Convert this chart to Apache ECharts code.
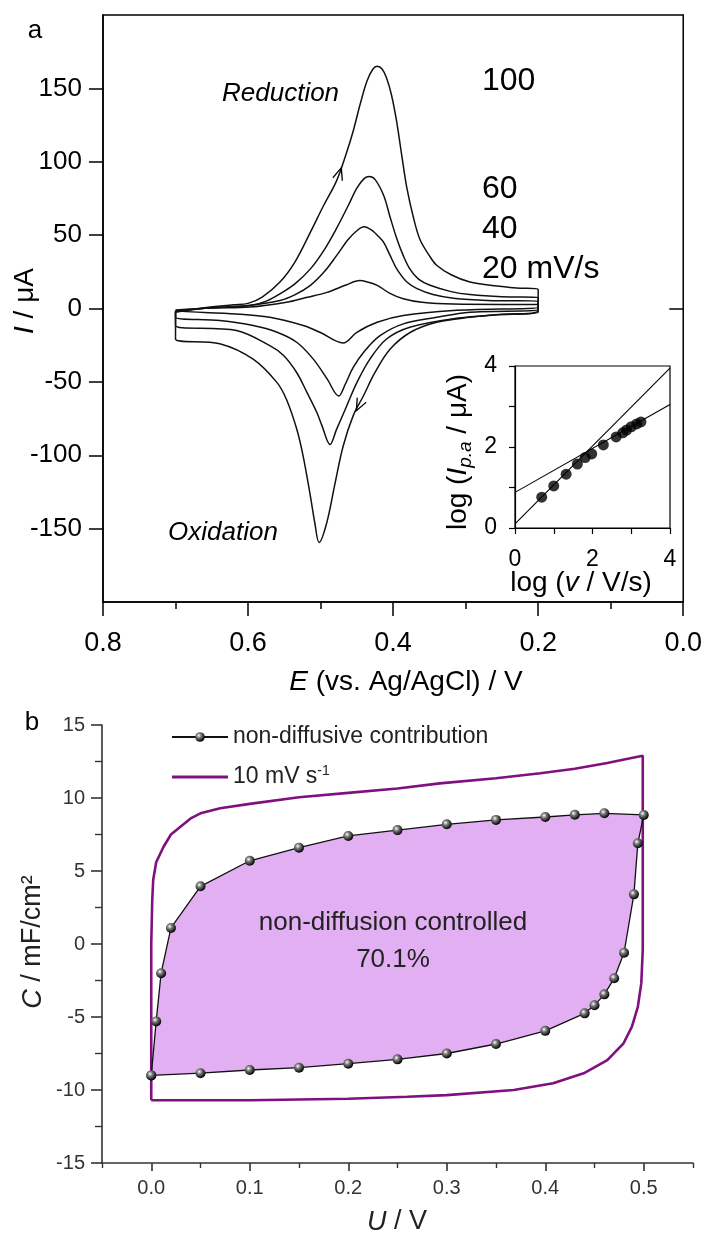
<!DOCTYPE html>
<html><head><meta charset="utf-8">
<script src="https://cdn.jsdelivr.net/npm/echarts@6/dist/echarts.min.js"></script>
<style>html,body{margin:0;padding:0;background:#fff}#c{width:705px;height:1236px}</style>
</head><body><div id="c"></div>
<script>
// ---------- Panel a: cyclic voltammograms [E (V), I (uA)] ----------
const cv100Up = [[0.700,-2.5],[0.660,0.5],[0.620,2.5],[0.600,3.5],[0.580,8],[0.556,18],[0.535,32],[0.514,52],[0.496,70],[0.478,87],[0.465,105],[0.455,121],[0.445,140],[0.436,155],[0.428,163],[0.422,165],[0.415,163],[0.409,157],[0.402,145],[0.395,127],[0.388,104],[0.381,82],[0.372,62],[0.363,47],[0.350,36],[0.340,29.5],[0.320,23],[0.294,18],[0.260,15.5],[0.230,14],[0.200,13]];
const cv100Down = [[0.200,-2.5],[0.250,-4],[0.294,-6],[0.340,-9.4],[0.376,-16.2],[0.404,-27.6],[0.425,-43.6],[0.441,-59.6],[0.455,-73],[0.469,-94],[0.480,-119],[0.4915,-146],[0.502,-159.5],[0.508,-146],[0.514,-128],[0.524,-100.7],[0.533,-82],[0.547,-62],[0.560,-50.5],[0.593,-34.5],[0.639,-24],[0.700,-20.8]];
const cv60Up = [[0.700,-2],[0.650,0.5],[0.597,2],[0.575,5],[0.556,10],[0.535,17],[0.514,27],[0.495,40],[0.478,54.6],[0.462,70],[0.450,82],[0.440,88.5],[0.433,90],[0.425,88],[0.413,77],[0.404,62],[0.395,47.7],[0.386,36],[0.377,27],[0.365,20],[0.349,15.8],[0.320,11.5],[0.294,9.5],[0.250,8],[0.200,7.5]];
const cv60Down = [[0.200,-1.4],[0.260,-4.5],[0.317,-7],[0.377,-12.8],[0.409,-20.8],[0.432,-34.5],[0.450,-50.5],[0.464,-66.4],[0.478,-82.4],[0.487,-92.7],[0.498,-80],[0.505,-71],[0.519,-57],[0.533,-43.6],[0.551,-32],[0.570,-25.3],[0.616,-15],[0.700,-11.6]];
const cv40Up = [[0.700,-1.5],[0.650,0.5],[0.600,2],[0.556,5.5],[0.535,9.5],[0.514,15.8],[0.495,25],[0.478,36],[0.462,47],[0.450,53],[0.440,55.7],[0.430,53.5],[0.420,49],[0.413,45],[0.404,36],[0.395,27],[0.381,18],[0.367,13.5],[0.345,9.5],[0.317,7],[0.270,5.5],[0.200,5]];
const cv40Down = [[0.200,-0.5],[0.294,-2.5],[0.340,-6],[0.386,-10.5],[0.418,-18.5],[0.439,-28.8],[0.455,-40.2],[0.466,-51.6],[0.475,-59.6],[0.491,-48],[0.510,-34.5],[0.533,-23],[0.560,-16.2],[0.593,-11.6],[0.639,-8.2],[0.700,-6]];
const cv20Up = [[0.700,-1],[0.650,0.3],[0.597,1],[0.547,4.3],[0.520,7.5],[0.491,11],[0.465,16],[0.446,19],[0.435,18],[0.422,15.8],[0.405,10.5],[0.386,6.6],[0.360,4.2],[0.317,3],[0.250,2.8],[0.200,2.8]];
const cv20Down = [[0.200,0.9],[0.317,-1.4],[0.386,-4.8],[0.422,-9.4],[0.450,-16.2],[0.469,-23.5],[0.501,-16.2],[0.524,-11.6],[0.570,-6],[0.616,-3.7],[0.700,-1.4]];
const yTicksA = [-150,-100,-50,0,50,100,150];
const arrowMarks = [[0.474,92],[0.447,-66]];

// ---------- Inset: log(Ip,a) vs log(v) ----------
const insetX = [0.69,1.00,1.32,1.61,1.81,1.98,2.28,2.61,2.78,2.88,3.00,3.14,3.25];
const insetY = [0.76,1.04,1.33,1.58,1.74,1.83,2.05,2.25,2.35,2.42,2.50,2.57,2.62];
const fit1 = [[0,0.10],[4,3.95]];
const fit2 = [[0,0.88],[4,3.05]];
const insetTicks = [0,2,4];

// ---------- Panel b: capacitance [U (V), C (mF/cm2)] ----------
const ndUpper = [[0,-9.0],[0.005,-5.3],[0.01,-2.0],[0.02,1.1],[0.05,3.95],[0.1,5.7],[0.15,6.6],[0.2,7.4],[0.25,7.8],[0.3,8.2],[0.35,8.5],[0.4,8.7],[0.43,8.85],[0.46,8.95],[0.5,8.84]];
const ndLower = [[0.494,6.9],[0.49,3.4],[0.48,-0.6],[0.47,-2.35],[0.46,-3.45],[0.45,-4.2],[0.44,-4.75],[0.4,-5.95],[0.35,-6.85],[0.3,-7.5],[0.25,-7.9],[0.2,-8.2],[0.15,-8.47],[0.1,-8.63],[0.05,-8.85],[0,-9.0]];
const cvUpper = [[0.0,-10.7],[0.0,0],[0.001,3],[0.002,4.4],[0.005,5.6],[0.0125,6.66],[0.02,7.5],[0.029,8.0],[0.04,8.6],[0.05,8.95],[0.07,9.3],[0.1,9.6],[0.15,10.05],[0.2,10.35],[0.25,10.65],[0.293,11.0],[0.35,11.35],[0.395,11.7],[0.43,12.0],[0.463,12.4],[0.485,12.7],[0.499,12.9]];
const cvLower = [[0.499,5],[0.499,-0.4],[0.4975,-2.7],[0.494,-4.3],[0.488,-5.66],[0.4795,-6.8],[0.463,-7.95],[0.439,-8.86],[0.408,-9.54],[0.368,-10.0],[0.3,-10.35],[0.26,-10.46],[0.2,-10.6],[0.1,-10.7],[0.0,-10.7]];
const xMajorB = [0,0.1,0.2,0.3,0.4,0.5];
const xMinorB = [-0.05,0.05,0.15,0.25,0.35,0.45,0.55];

const FONT = 'Liberation Sans, Arial, Helvetica, sans-serif';
const loop = (u, d) => u.concat(d, [u[0]]);
const ndLoop = ndUpper.concat(ndLower);
const cvLoop = cvUpper.concat(cvLower);

function tok(size, italic, color, extra) {
  return Object.assign({fontSize: size, fontFamily: FONT, fontStyle: italic ? 'italic' : 'normal', fill: color || '#000', color: color || '#000'}, extra || {});
}
function txt(x, y, text, rich, opts) {
  opts = opts || {};
  return {type: 'text', x: x, y: y, rotation: opts.rot || 0, z: 100,
    style: {text: text, rich: rich, align: opts.align || 'center', textAlign: opts.align || 'center',
      verticalAlign: 'middle', textVerticalAlign: 'middle', fill: opts.color || '#000'}};
}
const sphere = {type: 'radial', x: 0.38, y: 0.35, r: 0.65,
  colorStops: [{offset: 0, color: '#ffffff'}, {offset: 0.35, color: '#808080'}, {offset: 1, color: '#000000'}]};

const cvLine = (name, up, down, extra) => Object.assign({
  name: name, type: 'line', xAxisIndex: 0, yAxisIndex: 0, data: loop(up, down),
  symbol: 'none', smooth: 0.35, lineStyle: {color: '#111', width: 1.5}, silent: true
}, extra || {});

const purple = '#801080';

const option = {
  animation: false,
  backgroundColor: '#fff',
  grid: [
    {left: 103, right: 19, top: 15, bottom: 634, show: true, borderColor: '#000', borderWidth: 1.5},
    {left: 515, top: 366, width: 155, height: 162, show: true, borderColor: '#000', borderWidth: 1.2},
    {left: 102, right: 12, top: 725, bottom: 73}
  ],
  xAxis: [
    {gridIndex: 0, type: 'value', min: 0, max: 0.8, interval: 0.2, inverse: true,
      axisLine: {onZero: false, lineStyle: {color: '#000', width: 1.5}},
      axisTick: {length: 14, lineStyle: {color: '#000', width: 1.5}},
      minorTick: {show: true, splitNumber: 2, length: 7, lineStyle: {color: '#000', width: 1.5}},
      axisLabel: {fontSize: 27, fontFamily: FONT, color: '#000', margin: 28, formatter: v => v.toFixed(1)},
      splitLine: {show: false}},
    {gridIndex: 1, type: 'value', min: 0, max: 4, interval: 1,
      axisLine: {onZero: false, lineStyle: {color: '#000', width: 1.2}},
      axisTick: {length: 6, lineStyle: {color: '#000', width: 1.2}},
      axisLabel: {fontSize: 23, fontFamily: FONT, color: '#000', margin: 20, customValues: insetTicks},
      splitLine: {show: false}},
    {gridIndex: 2, type: 'value', min: -0.05, max: 0.55,
      axisLine: {onZero: false, lineStyle: {color: '#333', width: 1.6}},
      axisTick: {length: 8, customValues: xMajorB, lineStyle: {color: '#333', width: 1.6}},
      axisLabel: {fontSize: 20, fontFamily: FONT, color: '#333', margin: 15, customValues: xMajorB, formatter: v => v.toFixed(1)},
      splitLine: {show: false}},
    {gridIndex: 2, type: 'value', min: -0.05, max: 0.55, position: 'bottom',
      axisLine: {show: false, onZero: false},
      axisTick: {length: 5, customValues: xMinorB, lineStyle: {color: '#333', width: 1.4}},
      axisLabel: {show: false, customValues: xMinorB}, splitLine: {show: false}}
  ],
  yAxis: [
    {gridIndex: 0, type: 'value', min: -200, max: 200, interval: 50,
      axisLine: {onZero: false, lineStyle: {color: '#000', width: 1.5}},
      axisTick: {length: 14, customValues: yTicksA, lineStyle: {color: '#000', width: 1.5}},
      axisLabel: {fontSize: 26, fontFamily: FONT, color: '#000', margin: 21, customValues: yTicksA},
      splitLine: {show: false}},
    {gridIndex: 0, type: 'value', min: -200, max: 200, position: 'right',
      axisLine: {show: false, onZero: false},
      axisTick: {inside: true, length: 14, customValues: [0], lineStyle: {color: '#000', width: 1.5}},
      axisLabel: {show: false, customValues: [0]}, splitLine: {show: false}},
    {gridIndex: 1, type: 'value', min: 0, max: 4, interval: 1,
      axisLine: {onZero: false, lineStyle: {color: '#000', width: 1.2}},
      axisTick: {length: 6, lineStyle: {color: '#000', width: 1.2}},
      axisLabel: {fontSize: 23, fontFamily: FONT, color: '#000', margin: 18, customValues: insetTicks},
      splitLine: {show: false}},
    {gridIndex: 2, type: 'value', min: -15, max: 15, interval: 5,
      axisLine: {show: true, onZero: false, lineStyle: {color: '#333', width: 1.6}},
      axisTick: {length: 11, lineStyle: {color: '#333', width: 1.6}},
      minorTick: {show: true, splitNumber: 2, length: 7, lineStyle: {color: '#333', width: 1.4}},
      axisLabel: {fontSize: 20, fontFamily: FONT, color: '#333', margin: 17},
      splitLine: {show: false}}
  ],
  legend: {
    data: ['non-diffusive contribution',
      {name: '10 mV s-1', icon: 'path://M0,0L56,0L56,2.8L0,2.8Z', itemStyle: {color: purple}}],
    orient: 'vertical', left: 166, top: 719,
    itemWidth: 56, itemHeight: 12, itemGap: 14, selectedMode: false,
    formatter: n => n === '10 mV s-1' ? '{t|10 mV s}{s|-1}' : '{t|' + n + '}',
    textStyle: {fontSize: 23, fontFamily: FONT, color: '#222', lineHeight: 26,
      rich: {t: {fontSize: 23, fontFamily: FONT, color: '#222', lineHeight: 26},
             s: {fontSize: 14, fontFamily: FONT, color: '#222', lineHeight: 26, verticalAlign: 'top'}}}
  },
  series: [
    cvLine('100', cv100Up, cv100Down, {
      markPoint: {symbol: 'path://M0,10L5,0L10,10', symbolSize: [10, 12], silent: true,
        itemStyle: {color: 'none', borderColor: '#000', borderWidth: 1.4}, label: {show: false},
        data: [{coord: arrowMarks[0], symbolRotate: -18}, {coord: arrowMarks[1], symbolRotate: 153}]}
    }),
    cvLine('60', cv60Up, cv60Down),
    cvLine('40', cv40Up, cv40Down),
    cvLine('20', cv20Up, cv20Down),
    {name: 'fit1', type: 'line', xAxisIndex: 1, yAxisIndex: 2, data: fit1, symbol: 'none',
      lineStyle: {color: '#000', width: 1.1}, silent: true},
    {name: 'fit2', type: 'line', xAxisIndex: 1, yAxisIndex: 2, data: fit2, symbol: 'none',
      lineStyle: {color: '#000', width: 1.1}, silent: true},
    {name: 'points', type: 'scatter', xAxisIndex: 1, yAxisIndex: 2,
      data: insetX.map((x, i) => [x, insetY[i]]), symbolSize: 11, itemStyle: {color: '#000'}, silent: true},
    {name: 'fill', type: 'custom', xAxisIndex: 2, yAxisIndex: 3, data: [[0, 0]], silent: true, z: 1,
      renderItem: function (params, api) {
        return {type: 'polygon', shape: {points: ndLoop.map(p => api.coord(p))}, style: {fill: '#e2b0f2'}};
      }},
    {name: '10 mV s-1', type: 'line', xAxisIndex: 2, yAxisIndex: 3, data: cvLoop, symbol: 'none',
      lineStyle: {color: purple, width: 2.6}, itemStyle: {color: purple}, z: 3, silent: true},
    {name: 'non-diffusive contribution', type: 'line', xAxisIndex: 2, yAxisIndex: 3, data: ndLoop,
      symbol: 'circle', symbolSize: 10, showSymbol: true, showAllSymbol: true,
      lineStyle: {color: '#111', width: 1.3}, itemStyle: {color: sphere, borderWidth: 0}, z: 4, silent: true}
  ],
  graphic: [
    txt(35, 31, '{a|a}', {a: tok(26)}),
    txt(222, 94, '{a|Reduction}', {a: tok(26, true)}, {align: 'left'}),
    txt(482, 81, '{a|100}', {a: tok(32)}, {align: 'left'}),
    txt(482, 189, '{a|60}', {a: tok(32)}, {align: 'left'}),
    txt(482, 229, '{a|40}', {a: tok(32)}, {align: 'left'}),
    txt(482, 269, '{a|20 mV/s}', {a: tok(32)}, {align: 'left'}),
    txt(168, 533, '{a|Oxidation}', {a: tok(26, true)}, {align: 'left'}),
    txt(406, 682, '{i|E}{n| (vs. Ag/AgCl) / V}', {i: tok(28, true), n: tok(28)}),
    txt(25, 301, '{i|I}{n| / μA}', {i: tok(28, true), n: tok(28)}, {rot: Math.PI / 2}),
    txt(581, 583, '{n|log (}{i|v}{n| / V/s)}', {i: tok(28, true), n: tok(28)}),
    txt(458, 452, '{n|log (}{i|I}{s|p.a}{n| / μA)}',
      {i: tok(28, true, '#000', {lineHeight: 34}), n: tok(28, false, '#000', {lineHeight: 34}),
       s: tok(19, true, '#000', {lineHeight: 34, verticalAlign: 'bottom'})}, {rot: Math.PI / 2}),
    txt(32, 723, '{a|b}', {a: tok(26)}),
    txt(393, 923, '{a|non-diffusion controlled}', {a: tok(26, false, '#222')}),
    txt(393, 960, '{a|70.1%}', {a: tok(26, false, '#222')}),
    txt(397, 1222, '{i|U}{n| / V}', {i: tok(27, true, '#222'), n: tok(27, false, '#222')}),
    txt(33, 942, '{i|C}{n| / mF/cm²}', {i: tok(27, true, '#222'), n: tok(27, false, '#222')}, {rot: Math.PI / 2})
  ]
};
const chart = echarts.init(document.getElementById('c'), null, {renderer: 'canvas'});
chart.setOption(option);
</script></body></html>
